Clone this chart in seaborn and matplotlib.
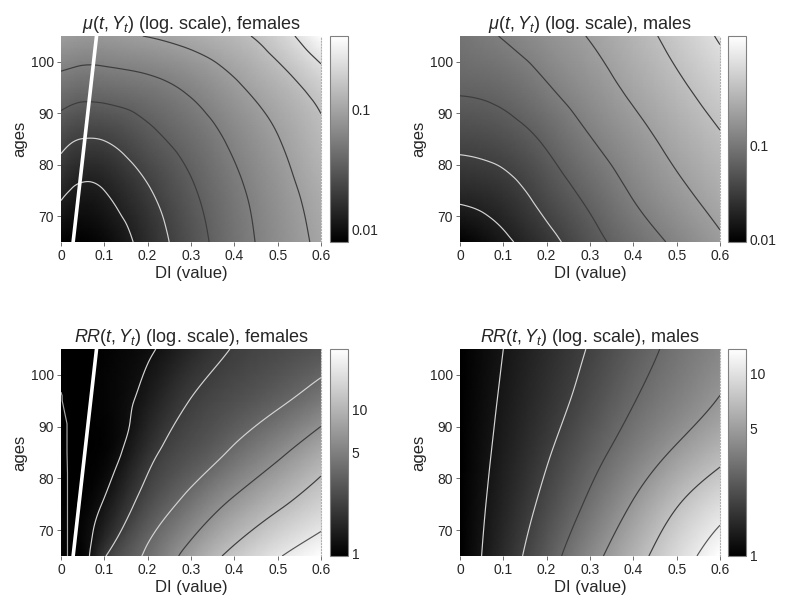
import numpy as np
import matplotlib
matplotlib.use('Agg')
import matplotlib.pyplot as plt
import matplotlib.tri as mtri
from matplotlib.patches import Polygon
import seaborn as sns

# grid: DI values (columns) and ages (rows)
di_females = [0, 0.025, 0.05, 0.1, 0.2, 0.3, 0.4, 0.5, 0.6]
di_males = [0, 0.1, 0.2, 0.3, 0.4, 0.5, 0.6]
ages = [65, 75, 85, 95, 105]

# log10 mu(t, Y_t), females
mu_females = [
    [-2.095, -2.105, -2.100, -2.045, -1.800, -1.554, -1.334, -1.149, -0.984],
    [-1.842, -1.900, -1.925, -1.890, -1.694, -1.484, -1.289, -1.109, -0.934],
    [-1.607, -1.655, -1.676, -1.665, -1.520, -1.370, -1.199, -1.034, -0.854],
    [-1.331, -1.355, -1.372, -1.364, -1.308, -1.204, -1.059, -0.909, -0.724],
    [-1.040, -1.058, -1.070, -1.070, -1.020, -0.950, -0.859, -0.699, -0.390],
]
# log10 mu(t, Y_t), males
mu_males = [
    [-2.030, -1.810, -1.572, -1.300, -1.075, -0.883, -0.693],
    [-1.667, -1.580, -1.359, -1.125, -0.900, -0.710, -0.540],
    [-1.406, -1.340, -1.161, -0.941, -0.750, -0.570, -0.405],
    [-1.170, -1.111, -0.951, -0.776, -0.602, -0.430, -0.250],
    [-1.030, -0.916, -0.780, -0.642, -0.480, -0.298, -0.075],
]
# log10 RR(t, Y_t), females
rr_females = [
    [0.008, -0.012, 0.010, 0.308, 0.599, 0.885, 1.100, 1.270, 1.418],
    [0.008, -0.012, 0.002, 0.104, 0.417, 0.642, 0.847, 1.013, 1.158],
    [0.006, -0.012, -0.011, 0.010, 0.263, 0.442, 0.599, 0.765, 0.943],
    [-0.003, -0.012, -0.013, 0.012, 0.144, 0.332, 0.432, 0.532, 0.670],
    [-0.009, -0.013, -0.014, 0.002, 0.065, 0.210, 0.335, 0.400, 0.460],
]
# log10 RR(t, Y_t), males
rr_males = [
    [0.000, 0.194, 0.402, 0.607, 0.791, 0.966, 1.134],
    [0.000, 0.160, 0.329, 0.504, 0.677, 0.845, 0.980],
    [0.000, 0.132, 0.269, 0.416, 0.556, 0.689, 0.808],
    [0.000, 0.111, 0.223, 0.342, 0.469, 0.572, 0.675],
    [0.000, 0.095, 0.194, 0.295, 0.408, 0.513, 0.600],
]

# contour levels (log10)
mu_females_levels = [-1.890, -1.674, -1.458, -1.242, -1.026, -0.810, -0.594]
mu_males_levels = [-1.755, -1.480, -1.205, -0.930, -0.655, -0.380, -0.105]
rr_females_levels = [0.086, 0.326, 0.566, 0.806, 1.046, 1.286]
rr_females_low = -0.004
rr_males_levels = [0.095, 0.285, 0.475, 0.665, 0.855, 1.045]

# DI of the minimum over DI, females
ridge_age = [65, 105]
ridge_di = [0.028, 0.082]

LIGHT = '#d4d4d4'
DARK = '#3c3c3c'
MID = '#555555'

panels = [
    dict(di=di_females, z=mu_females, levels=mu_females_levels,
         colors=[LIGHT, LIGHT, DARK, DARK, DARK, DARK, DARK],
         vmin=-2.107, vmax=-0.38, ticks=[-2, -1], ticklabels=['0.01', '0.1'],
         title=r'$\mu(t,Y_t)$ (log. scale), females', ridge=True, low=None,
         rect=[0.0775, 0.6052, 0.3304, 0.3361], cbar=[0.4193, 0.6052, 0.0225, 0.3361]),
    dict(di=di_males, z=mu_males, levels=mu_males_levels,
         colors=[LIGHT, LIGHT, DARK, DARK, DARK, DARK, DARK],
         vmin=-2.03, vmax=0.17, ticks=[-2, -1], ticklabels=['0.01', '0.1'],
         title=r'$\mu(t,Y_t)$ (log. scale), males', ridge=False, low=None,
         rect=[0.5845, 0.6052, 0.3304, 0.3361], cbar=[0.9250, 0.6052, 0.0225, 0.3361]),
    dict(di=di_females, z=rr_females, levels=rr_females_levels,
         colors=[LIGHT, LIGHT, LIGHT, DARK, DARK, MID],
         vmin=-0.014, vmax=1.418, ticks=[0, np.log10(5), 1], ticklabels=['1', '5', '10'],
         title=r'$RR(t,Y_t)$ (log. scale), females', ridge=True, low=rr_females_low,
         rect=[0.0775, 0.0930, 0.3304, 0.3377], cbar=[0.4193, 0.0930, 0.0225, 0.3377]),
    dict(di=di_males, z=rr_males, levels=rr_males_levels,
         colors=[LIGHT, LIGHT, DARK, DARK, DARK, MID],
         vmin=0.0, vmax=1.132, ticks=[0, np.log10(5), 1], ticklabels=['1', '5', '10'],
         title=r'$RR(t,Y_t)$ (log. scale), males', ridge=False, low=None,
         rect=[0.5845, 0.0930, 0.3304, 0.3377], cbar=[0.9250, 0.0930, 0.0225, 0.3377]),
]

sns.set_theme(style='white')
plt.rcParams['font.family'] = ['Liberation Sans', 'DejaVu Sans']
plt.rcParams['mathtext.fontset'] = 'custom'
plt.rcParams['mathtext.rm'] = 'Liberation Sans'
plt.rcParams['mathtext.it'] = 'Liberation Sans:italic'
plt.rcParams['contour.negative_linestyle'] = 'solid'


def grid_triangulation(xs, ys):
    gx, gy = np.meshgrid(xs, ys)
    nx, ny = len(xs), len(ys)
    tris = []
    for j in range(ny - 1):
        for i in range(nx - 1):
            a = j * nx + i
            tris.append([a, a + 1, a + nx + 1])
            tris.append([a, a + nx + 1, a + nx])
    return mtri.Triangulation(gx.ravel(), gy.ravel(), np.array(tris))


fig = plt.figure(figsize=(7.87, 6.13), dpi=100)

for p in panels:
    triang = grid_triangulation(p['di'], ages)
    z = np.array(p['z']).ravel()
    interp = mtri.CubicTriInterpolator(triang, z, kind='min_E')
    tri_f, z_f = mtri.UniformTriRefiner(triang).refine_field(z, triinterpolator=interp, subdiv=4)

    ax = fig.add_axes(p['rect'])
    tpc = ax.tripcolor(tri_f, z_f, shading='gouraud', cmap='gray',
                       vmin=p['vmin'], vmax=p['vmax'], rasterized=True)
    ax.tricontour(tri_f, z_f, levels=p['levels'], colors=p['colors'],
                  linewidths=0.85, linestyles='solid')
    if p['low'] is not None:
        # the level just under 1 only shows left of the minimum line
        left = Polygon([(0, ages[0]), (ridge_di[0], ridge_age[0]),
                        (ridge_di[1], ridge_age[1]), (0, ages[-1])],
                       transform=ax.transData, facecolor='none', edgecolor='none')
        ax.add_patch(left)
        cs = ax.tricontour(triang, z, levels=[p['low']], colors=['#a8a8a8'],
                           linewidths=0.85, linestyles='solid')
        cs.set_clip_path(left)
    if p['ridge']:
        sns.lineplot(x=ridge_di, y=ridge_age, ax=ax, color='white', linewidth=2.6,
                     estimator=None, sort=False, zorder=5)

    ax.set_xlim(0, 0.6)
    ax.set_ylim(65, 105)
    ax.set_xticks([0, 0.1, 0.2, 0.3, 0.4, 0.5, 0.6])
    ax.set_xticklabels(['0', '0.1', '0.2', '0.3', '0.4', '0.5', '0.6'])
    ax.set_yticks([70, 80, 90, 100])
    ax.tick_params(direction='out', length=3, width=0.6, color='#555555',
                   labelsize=10, pad=2, bottom=True, left=True)
    for s in ['top', 'left', 'bottom']:
        ax.spines[s].set_visible(False)
    ax.spines['right'].set_linestyle(':')
    ax.spines['right'].set_color('#b0b0b0')
    ax.spines['right'].set_linewidth(0.8)
    ax.set_xlabel('DI (value)', fontsize=12, labelpad=2)
    ax.set_ylabel('ages', fontsize=12, labelpad=3)
    ax.set_title(p['title'], fontsize=13, pad=5)

    cax = fig.add_axes(p['cbar'])
    cb = fig.colorbar(tpc, cax=cax)
    cb.set_ticks(p['ticks'])
    cb.set_ticklabels(p['ticklabels'])
    cb.outline.set_edgecolor('#808080')
    cb.outline.set_linewidth(0.8)
    cax.tick_params(direction='in', length=3, width=0.6, color='#505050',
                    left=True, right=True, labelsize=10, pad=3)

fig.savefig('out.png', dpi=100)
